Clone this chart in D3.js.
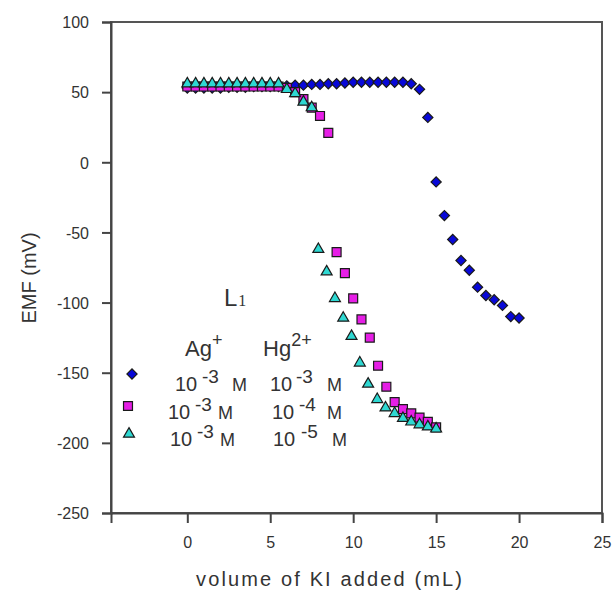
<!DOCTYPE html>
<html>
<head>
<meta charset="utf-8">
<script src="https://cdn.jsdelivr.net/npm/d3@7"></script>
<style>
  body { margin: 0; background: #fff; }
  svg { display: block; }
  text { font-family: Arial, "Liberation Sans", sans-serif; fill: #333; }
</style>
</head>
<body>
<svg id="chart" width="613" height="592"></svg>
<script>
// ---- data ----
const xTicks = [0, 5, 10, 15, 20, 25];
const yTicks = [100, 50, 0, -50, -100, -150, -200, -250];

const agHg3_x = [0,0.5,1,1.5,2,2.5,3,3.5,4,4.5,5,5.5,6,6.5,7,7.5,8,8.5,9,9.5,10,10.5,11,11.5,12,12.5,13,13.5,14,14.5,15,15.5,16,16.5,17,17.5,18,18.5,19,19.5,20];
const agHg3_y = [53,53,53,53,53,53.5,53.5,53.5,54,54,54,54,54.5,55,55,55.5,55.5,56,56,56.5,57,57,57,57,57,57,57,56,52,32,-14,-38,-55,-70,-77,-89,-95,-98,-102,-110,-111];

const agHg4_x = [0,0.5,1,1.5,2,2.5,3,3.5,4,4.5,5,5.5,6,6.5,7,7.5,8,8.5,9,9.5,10,10.5,11,11.5,12,12.5,13,13.5,14,14.5,15];
const agHg4_y = [54,54,54,54,54,54,54,54,54,54,54,54,53,50,45,39,33,21,-64,-79,-97,-112,-125,-145,-160,-171,-176,-179,-182,-185,-189];

const agHg5_x = [0,0.5,1,1.5,2,2.5,3,3.5,4,4.5,5,5.5,6,6.5,7,7.5,7.9,8.4,8.9,9.4,9.9,10.4,10.9,11.45,11.95,12.5,13,13.5,14,14.5,15];
const agHg5_y = [56,56,56,56,56,56,56,56,56,56,56,56,52,49,43,39,-62,-78,-97,-111,-124,-143,-158,-169,-175,-179,-182.5,-185,-187,-188.5,-190];

const legendTitle = "L";
const legendSub = "1";
const legendHeaders = [["Ag", "+"], ["Hg", "2+"]];
const legendAgExp = ["-3", "-3", "-3"];
const legendHgExp = ["-3", "-4", "-5"];

// ---- chart ----
const svg = d3.select("#chart");
const x = d3.scaleLinear().domain([-4.6, 25]).range([111, 602]);
const y = d3.scaleLinear().domain([-250, 100]).range([513, 22]);

const axisColor = "#444";

// frame
svg.append("rect").attr("x", 111).attr("y", 22).attr("width", 491).attr("height", 491)
  .attr("fill", "none").attr("stroke", "#555").attr("stroke-width", 2);

const xAxis = svg.append("g").attr("transform", "translate(0,513)")
  .call(d3.axisBottom(x).tickValues(xTicks).tickSize(10).tickPadding(14).tickFormat(d3.format("d")));
const yAxis = svg.append("g").attr("transform", "translate(111,0)")
  .call(d3.axisLeft(y).tickValues(yTicks).tickSize(9).tickPadding(13).tickFormat(d => d < 0 ? "-" + Math.abs(d) : d));
[xAxis, yAxis].forEach(g => {
  g.select(".domain").attr("stroke", axisColor).attr("stroke-width", 2);
  g.selectAll(".tick line").attr("stroke", axisColor).attr("stroke-width", 2);
  g.selectAll(".tick text").attr("font-size", 16).attr("fill", "#333")
    .attr("font-family", "Arial, 'Liberation Sans', sans-serif");
});
yAxis.selectAll(".tick text").attr("dy", "0.36em");

svg.append("text").attr("x", 329).attr("y", 586).attr("text-anchor", "middle")
  .attr("font-size", 20).attr("textLength", 266).attr("lengthAdjust", "spacing")
  .text("volume of KI added (mL)");
svg.append("text").attr("transform", "translate(36,278) rotate(-90)")
  .attr("text-anchor", "middle").attr("font-size", 20).text("EMF (mV)");

// markers
const diamond = d3.symbol().type(d3.symbolSquare).size(52)();
const square = d3.symbol().type(d3.symbolSquare).size(80)();
const tri = d3.symbol().type(d3.symbolTriangle).size(52)();

function series(xs, ys, path, fill, rot) {
  svg.append("g").selectAll("path").data(xs.map((v, i) => [v, ys[i]])).join("path")
    .attr("d", path)
    .attr("transform", d => `translate(${x(d[0])},${y(d[1])})${rot ? " rotate(45)" : ""}`)
    .attr("fill", fill).attr("stroke", "#1a1a1a").attr("stroke-width", 1.2);
}
series(agHg3_x, agHg3_y, diamond, "#0808d8", true);
series(agHg4_x, agHg4_y, square, "#e61ee6", false);
series(agHg5_x, agHg5_y, tri, "#2ed8d2", false);

// legend
const lg = svg.append("g");
const L = lg.append("text").attr("x", 224).attr("y", 306).attr("font-size", 24);
L.append("tspan").text(legendTitle);
L.append("tspan").attr("font-family", "'Liberation Serif', 'DejaVu Serif', serif").attr("font-size", 16).attr("dx", 1).text(legendSub);

const headX = [185, 263];
legendHeaders.forEach((h, i) => {
  const t = lg.append("text").attr("x", headX[i]).attr("y", 356).attr("font-size", 22);
  t.append("tspan").text(h[0]);
  t.append("tspan").attr("dy", -10).attr("font-size", 18).text(h[1]);
});

const rowY = [391, 418.5, 446];
// [x of "10", x of exponent digit, x of "M"]
const agPos = [[175, 208, 232], [168, 201, 218], [170, 203, 220]];
const hgPos = [[270, 302, 327], [272, 305, 327], [273, 307, 332]];
function conc(pos, yp, exp) {
  lg.append("text").attr("x", pos[0]).attr("y", yp).attr("font-size", 20).text("10");
  lg.append("text").attr("x", pos[1]).attr("y", yp - 8).attr("font-size", 19)
    .attr("text-anchor", "start").attr("dx", -6).text(exp);
  lg.append("text").attr("x", pos[2]).attr("y", yp).attr("font-size", 18).text("M");
}
rowY.forEach((ry, i) => {
  conc(agPos[i], ry, legendAgExp[i]);
  conc(hgPos[i], ry, legendHgExp[i]);
});
const lgMarks = [[132, 374, diamond, "#0808d8", true], [128, 406, square, "#e61ee6", false], [129, 434, tri, "#2ed8d2", false]];
lgMarks.forEach(m => {
  lg.append("path").attr("d", m[2])
    .attr("transform", `translate(${m[0]},${m[1]})${m[4] ? " rotate(45)" : ""}`)
    .attr("fill", m[3]).attr("stroke", "#1a1a1a").attr("stroke-width", 1.2);
});
</script>
</body>
</html>
